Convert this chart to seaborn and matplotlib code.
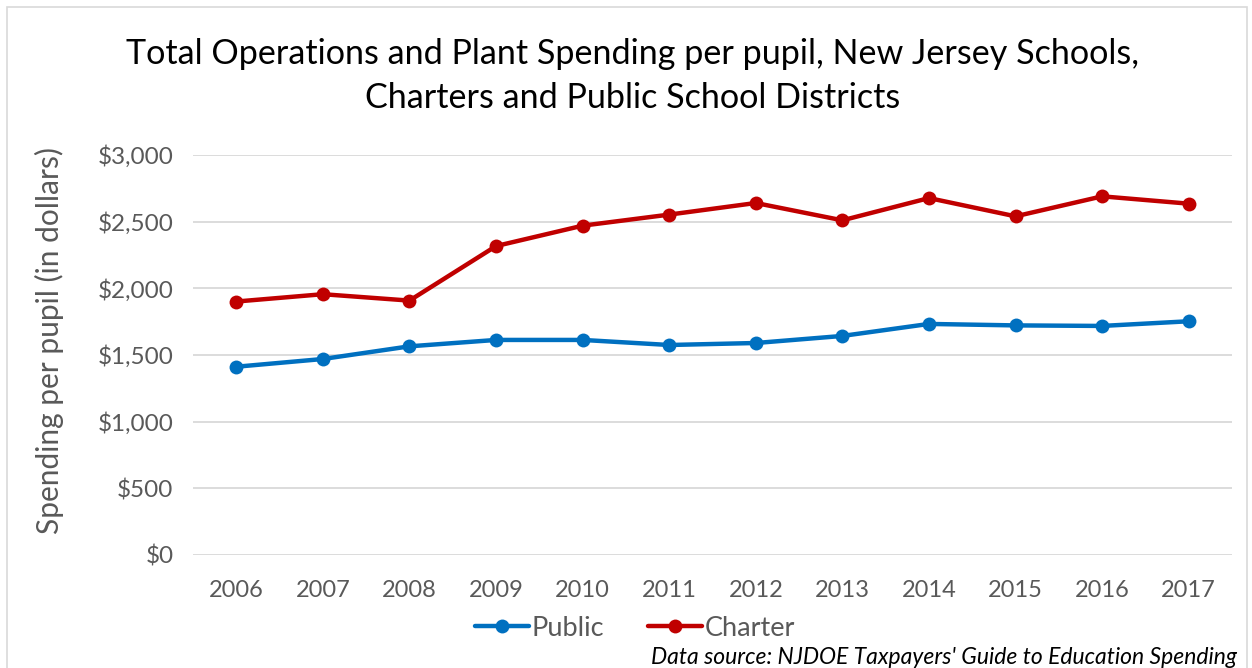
import matplotlib
matplotlib.use("Agg")
import matplotlib.pyplot as plt
from matplotlib.patches import Rectangle
import seaborn as sns
import pandas as pd

years = [2006, 2007, 2008, 2009, 2010, 2011, 2012, 2013, 2014, 2015, 2016, 2017]
public = [1412, 1470, 1565, 1613, 1613, 1575, 1590, 1643, 1733, 1722, 1718, 1753]
charter = [1901, 1956, 1908, 2317, 2470, 2553, 2640, 2510, 2677, 2540, 2690, 2635]
series_names = ["Public", "Charter"]
series_colors = {"Public": "#0070C0", "Charter": "#C00000"}
y_ticks = [0, 500, 1000, 1500, 2000, 2500, 3000]

df = pd.DataFrame({
    "Year": years * 2,
    "Spending": public + charter,
    "Type": ["Public"] * len(years) + ["Charter"] * len(years),
})

sns.set_theme(style="white")
plt.rcParams["font.family"] = ["Lato", "DejaVu Sans"]

fig = plt.figure(figsize=(12.52, 6.68), dpi=100)
ax = fig.add_axes([193 / 1252, 1 - 555 / 668, (1232 - 193) / 1252, 400 / 668])

sns.lineplot(
    data=df, x="Year", y="Spending", hue="Type", hue_order=series_names,
    palette=series_colors, marker="o", markersize=10, markeredgewidth=0,
    linewidth=3.2, ax=ax, legend=True,
)

ax.set_xlim(years[0] - 0.5, years[-1] + 0.5)
ax.set_ylim(0, 3000)
ax.set_xticks(years)
ax.set_xticklabels([str(y) for y in years], fontsize=17, color="#595959")
ax.set_yticks(y_ticks)
ax.set_yticklabels([f"${v:,}" for v in y_ticks], fontsize=17.5, color="#595959")
ax.tick_params(axis="x", length=0, pad=18)
ax.tick_params(axis="y", length=0, pad=14)
ax.grid(axis="y", color="#D9D9D9", linewidth=1.3)
ax.set_axisbelow(True)
for s in ax.spines.values():
    s.set_visible(False)
ax.set_xlabel("")
ax.set_ylabel("Spending per pupil (in dollars)", fontsize=21.5, color="#595959")
ax.yaxis.set_label_coords(-0.124, 0.537)

handles, labels = ax.get_legend_handles_labels()
ax.get_legend().remove()
fig.legend(handles, labels, loc="center", bbox_to_anchor=(635 / 1252, 1 - 628 / 668),
           ncol=2, frameon=False, fontsize=19.5, handlelength=2.0, handletextpad=0.1,
           columnspacing=1.6, labelcolor="#595959")

fig.text(633 / 1252, 1 - 54 / 668,
         "Total Operations and Plant Spending per pupil, New Jersey Schools,",
         ha="center", va="center", fontsize=24.6, color="black")
fig.text(633 / 1252, 1 - 98 / 668,
         "Charters and Public School Districts",
         ha="center", va="center", fontsize=24.6, color="black")
fig.text(1237 / 1252, 1 - 657 / 668,
         "Data source: NJDOE Taxpayers' Guide to Education Spending",
         ha="right", va="center", fontsize=16.5, style="italic", color="black")

fig.patches.append(Rectangle((7 / 1252, -0.01), 1 - 12 / 1252, 1.0, transform=fig.transFigure,
                             fill=False, edgecolor="#D9D9D9", linewidth=1.2))

fig.savefig("out.png", dpi=100)
